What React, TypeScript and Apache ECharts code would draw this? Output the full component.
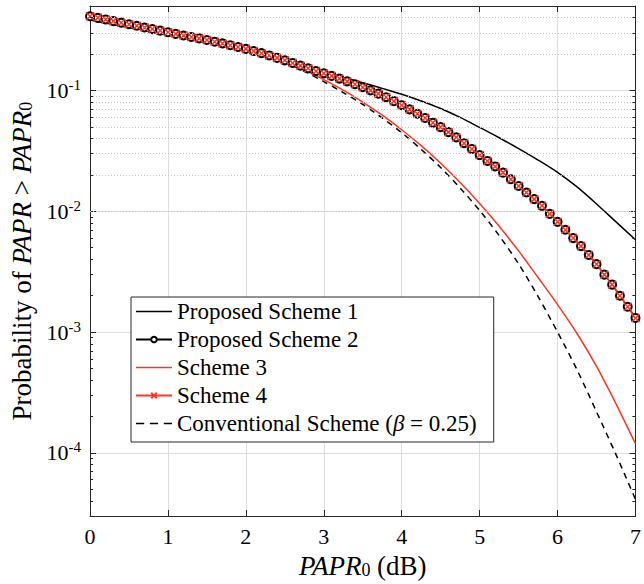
import React, { useEffect, useRef } from "react";
import * as echarts from "echarts";

const FONT = '"Liberation Serif", "Times New Roman", serif';
const RED = "#ff3322";
const INK = "#262626";

// x samples (dB)
const PAPR_FINE = Array.from({ length: 71 }, (_, i) => i / 10);
const PAPR_COARSE = Array.from({ length: 29 }, (_, i) => i / 4);

const SERIES_NAMES = [
  "Proposed Scheme 1",
  "Proposed Scheme 2",
  "Scheme 3",
  "Scheme 4",
  "Conventional Scheme (β = 0.25)",
];

// Proposed Scheme 1 (black solid) at PAPR_COARSE
const PROPOSED_1 = [
  0.383, 0.356, 0.332, 0.309, 0.288, 0.271, 0.255, 0.239, 0.225, 0.201,
  0.178, 0.158, 0.142, 0.128, 0.116, 0.104, 0.093, 0.0819, 0.0709, 0.0598,
  0.0494, 0.0406, 0.033, 0.02655, 0.021, 0.0159, 0.0115, 0.00817, 0.00581,
];

// Proposed Scheme 2 (black circles) at PAPR_FINE
const PROPOSED_2 = [
  0.411, 0.399, 0.387, 0.375, 0.364, 0.353, 0.343, 0.332, 0.322, 0.313,
  0.303, 0.294, 0.285, 0.277, 0.2697, 0.2615, 0.2532, 0.2451, 0.2368, 0.2289,
  0.2209, 0.2122, 0.2035, 0.1949, 0.1861, 0.1775, 0.1689, 0.1605, 0.1525, 0.1448,
  0.1386, 0.132, 0.1254, 0.1189, 0.1125, 0.1063, 0.1002, 0.0941, 0.0879, 0.0816,
  0.0755, 0.0697, 0.0642, 0.0592, 0.0541, 0.0497, 0.0452, 0.0409, 0.0366, 0.0328,
  0.0292, 0.0261, 0.0235, 0.0209, 0.0184, 0.0162, 0.0143, 0.0126, 0.0111, 0.00952,
  0.00818, 0.00703, 0.006, 0.00515, 0.00435, 0.00365, 0.00299, 0.00247, 0.002, 0.00162,
  0.00131,
];

// Scheme 3 (red solid) at PAPR_COARSE
const SCHEME_3 = [
  0.41, 0.38, 0.353, 0.327, 0.303, 0.282, 0.262, 0.242, 0.222, 0.1995,
  0.1738, 0.148, 0.123, 0.1005, 0.0802, 0.0624, 0.0473, 0.0349, 0.025, 0.0173,
  0.0116, 0.00753, 0.0047, 0.00283, 0.00169, 0.000974, 0.00052, 0.000255, 0.000119,
];

// Scheme 4 (red crosses) at PAPR_FINE — coincides with Proposed Scheme 2
const SCHEME_4 = PROPOSED_2.slice();

// Conventional scheme (black dashed) at PAPR_COARSE
const CONVENTIONAL = [
  0.405, 0.377, 0.35, 0.325, 0.301, 0.28, 0.26, 0.241, 0.221, 0.1986,
  0.1712, 0.1443, 0.1184, 0.0961, 0.0766, 0.0592, 0.0447, 0.0325, 0.023, 0.01557,
  0.01016, 0.00629, 0.00367, 0.00197, 0.001, 0.000487, 0.000219, 0.0000968, 0.0000412,
];

const X_MIN = 0;
const X_MAX = 7;
const Y_MIN = 3e-5;
const Y_MAX = 0.5;

// minor log positions (2..9 x 10^n) inside the axis range
const Y_MINOR: number[] = [];
for (let d = -5; d <= -1; d++) {
  for (let m = 2; m <= 9; m++) {
    const v = m * Math.pow(10, d);
    if (v > Y_MIN * 1.0001 && v < Y_MAX * 0.9999) Y_MINOR.push(Number(v.toPrecision(6)));
  }
}

const pairs = (xs: number[], ys: number[]) => xs.map((x, i) => [x, ys[i]]);

const CROSS = "path://M0,0L10,10M10,0L0,10";
const LINE_ICON = "path://M0,0H36V1.5H0Z";
const DASH_ICON = "path://M0,0H8V1.5H0Z M13.5,0H21.5V1.5H13.5Z M27,0H35V1.5H27Z";

export default function App() {
  const ref = useRef<HTMLDivElement>(null);

  useEffect(() => {
    if (!ref.current) return;
    const chart = echarts.init(ref.current, undefined, { renderer: "svg" });

    const axisLine = { show: true, onZero: false, lineStyle: { color: INK, width: 1 } };
    const axisTick = { show: true, inside: true, length: 6, lineStyle: { color: INK, width: 1 } };
    const majorGrid = { show: true, lineStyle: { color: "#dedede", width: 1, type: "solid" } };

    const option: any = {
      animation: false,
      backgroundColor: "#ffffff",
      grid: { left: 86, right: 2.5, top: 6, bottom: 66, containLabel: false },
      xAxis: [
        {
          type: "value",
          min: X_MIN,
          max: X_MAX,
          interval: 1,
          position: "bottom",
          axisLine,
          axisTick,
          axisLabel: { fontFamily: FONT, fontSize: 22, color: "#000", margin: 9 },
          splitLine: majorGrid,
          name: "{i|PAPR}{sub|0} (dB)",
          nameLocation: "middle",
          nameGap: 35,
          nameTextStyle: {
            fontFamily: FONT,
            fontSize: 27,
            color: "#000",
            rich: {
              i: { fontFamily: FONT, fontSize: 27, fontStyle: "italic", color: "#000" },
              sub: { fontFamily: FONT, fontSize: 18, color: "#000", verticalAlign: "bottom" },
            },
          },
        },
        {
          type: "value",
          min: X_MIN,
          max: X_MAX,
          interval: 1,
          position: "top",
          axisLine,
          axisTick,
          axisLabel: { show: false },
          splitLine: { show: false },
        },
      ],
      yAxis: [
        {
          type: "log",
          logBase: 10,
          min: Y_MIN,
          max: Y_MAX,
          position: "left",
          axisLine,
          axisTick,
          splitLine: majorGrid,
          axisLabel: {
            showMinLabel: false,
            showMaxLabel: false,
            margin: 9,
            formatter: (v: number) => {
              const e = Math.log10(v);
              if (Math.abs(e - Math.round(e)) > 1e-6) return "";
              return `{b|10}{s|${Math.round(e)}}`;
            },
            rich: {
              b: { fontFamily: FONT, fontSize: 22, color: "#000", lineHeight: 26 },
              s: { fontFamily: FONT, fontSize: 15, color: "#000", lineHeight: 14, verticalAlign: "top" },
            },
          },
          name: "Probability of {i|PAPR} > {i|PAPR}{sub|0}",
          nameLocation: "middle",
          nameRotate: 90,
          nameGap: 55,
          nameTextStyle: {
            fontFamily: FONT,
            fontSize: 27,
            color: "#000",
            rich: {
              i: { fontFamily: FONT, fontSize: 27, fontStyle: "italic", color: "#000" },
              sub: { fontFamily: FONT, fontSize: 18, color: "#000", verticalAlign: "bottom" },
            },
          },
        },
        {
          type: "log",
          logBase: 10,
          min: Y_MIN,
          max: Y_MAX,
          position: "right",
          axisLine,
          axisTick,
          axisLabel: { show: false },
          splitLine: { show: false },
        },
      ],
      legend: {
        data: [
          { name: SERIES_NAMES[0], icon: LINE_ICON },
          { name: SERIES_NAMES[1] },
          { name: SERIES_NAMES[2], icon: LINE_ICON },
          { name: SERIES_NAMES[3] },
          { name: SERIES_NAMES[4], icon: DASH_ICON },
        ],
        orient: "vertical",
        left: 131,
        top: 297,
        padding: [3, 17, 7, 4],
        itemGap: 5,
        itemWidth: 36,
        itemHeight: 7,
        backgroundColor: "#ffffff",
        borderColor: INK,
        borderWidth: 1,
        borderRadius: 0,
        selectedMode: false,
        textStyle: {
          fontFamily: FONT,
          fontSize: 23,
          color: "#000",
          lineHeight: 22,
          rich: {
            i: { fontFamily: FONT, fontSize: 23, fontStyle: "italic", color: "#000", lineHeight: 22 },
          },
        },
        formatter: (n: string) =>
          n.indexOf("Conventional") === 0 ? "Conventional Scheme ({i|β} = 0.25)" : n,
      },
      series: [
        {
          name: "__minorGrid",
          type: "line",
          data: [],
          silent: true,
          markLine: {
            silent: true,
            symbol: ["none", "none"],
            label: { show: false },
            lineStyle: { color: "#c4c4c4", width: 1, type: [1, 2] },
            emphasis: { disabled: true },
            data: Y_MINOR.map((v) => ({ yAxis: v })),
          },
        },
        {
          name: "__minorTicks",
          type: "line",
          data: [],
          silent: true,
          markLine: {
            silent: true,
            symbol: ["none", "none"],
            label: { show: false },
            lineStyle: { color: INK, width: 1, type: "solid" },
            emphasis: { disabled: true },
            data: Y_MINOR.flatMap((v) => [
              [{ coord: [X_MIN, v] }, { coord: [X_MIN + 0.04, v] }],
              [{ coord: [X_MAX - 0.04, v] }, { coord: [X_MAX, v] }],
            ]),
          },
        },
        {
          name: SERIES_NAMES[0],
          type: "line",
          data: pairs(PAPR_COARSE, PROPOSED_1),
          symbol: "none",
          smooth: 0.3,
          lineStyle: { color: "#000", width: 1.5 },
          itemStyle: { color: "#000" },
          emphasis: { disabled: true },
        },
        {
          name: SERIES_NAMES[1],
          type: "line",
          data: pairs(PAPR_FINE, PROPOSED_2),
          symbol: "emptyCircle",
          symbolSize: 8,
          showAllSymbol: true,
          lineStyle: { color: "#000", width: 1.5 },
          itemStyle: { color: "#000", borderColor: "#000", borderWidth: 1.5 },
          emphasis: { disabled: true },
        },
        {
          name: SERIES_NAMES[2],
          type: "line",
          data: pairs(PAPR_COARSE, SCHEME_3),
          symbol: "none",
          smooth: 0.3,
          lineStyle: { color: RED, width: 1.5 },
          itemStyle: { color: RED },
          emphasis: { disabled: true },
        },
        {
          name: SERIES_NAMES[3],
          type: "line",
          data: pairs(PAPR_FINE, SCHEME_4),
          symbol: CROSS,
          symbolSize: 8,
          showAllSymbol: true,
          lineStyle: { color: RED, width: 1.5 },
          itemStyle: { color: RED, borderColor: RED, borderWidth: 1.5 },
          emphasis: { disabled: true },
        },
        {
          name: SERIES_NAMES[4],
          type: "line",
          data: pairs(PAPR_COARSE, CONVENTIONAL),
          symbol: "none",
          smooth: 0.3,
          lineStyle: { color: "#000", width: 1.5, type: [6, 5] },
          itemStyle: { color: "#000" },
          emphasis: { disabled: true },
        },
      ],
    };

    chart.setOption(option);
    return () => chart.dispose();
  }, []);

  return (
    <div
      ref={ref}
      style={{ position: "absolute", left: 0, top: 0, width: 644, height: 584, background: "#fff" }}
    />
  );
}
